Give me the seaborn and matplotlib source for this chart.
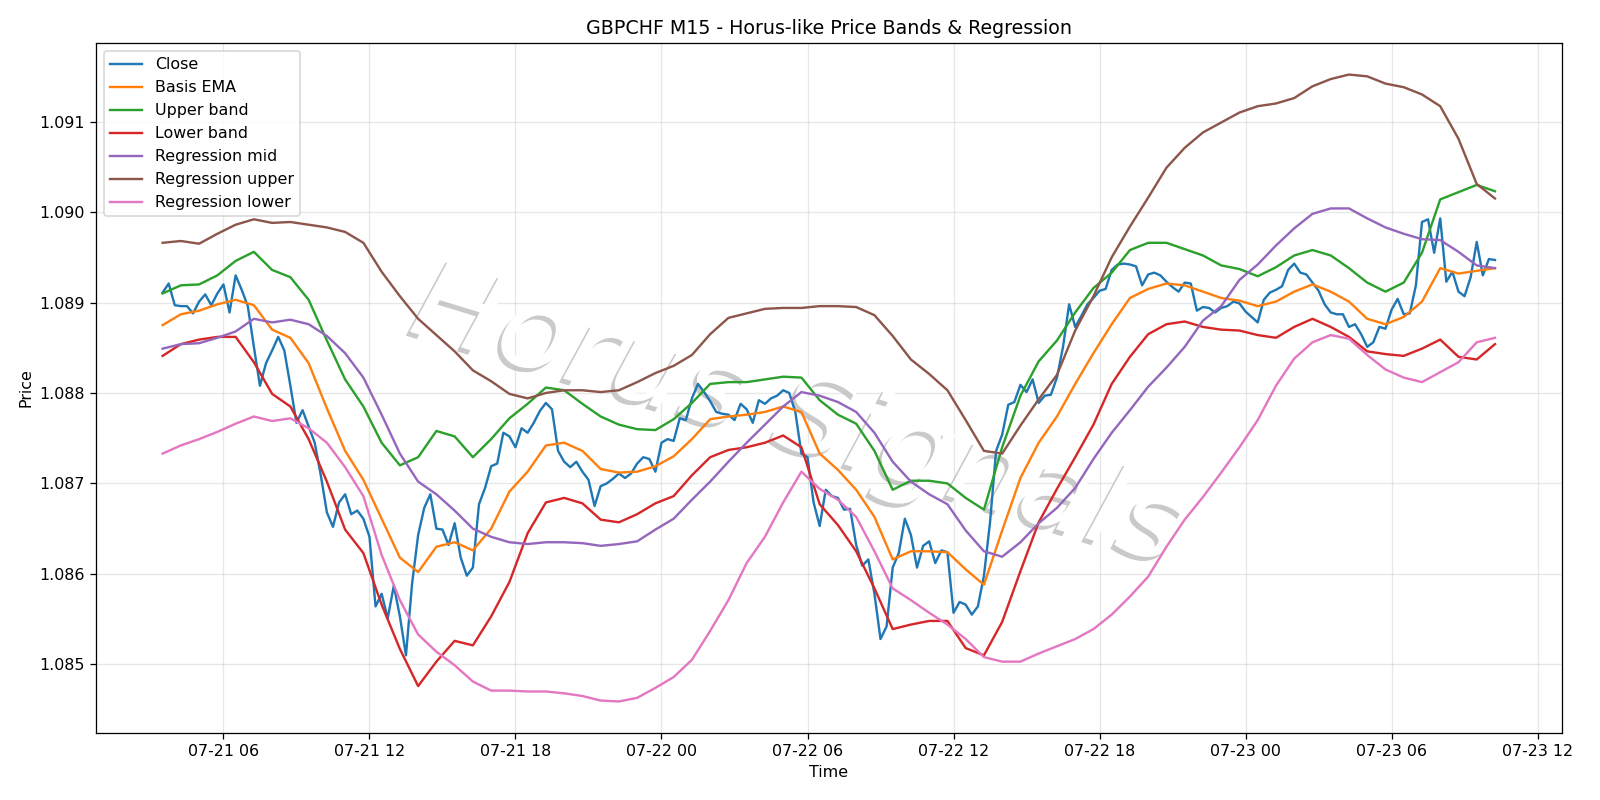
import numpy as np
import pandas as pd
import matplotlib
matplotlib.use("Agg")
import matplotlib.pyplot as plt
import matplotlib.dates as mdates
from matplotlib.textpath import TextPath
from matplotlib.font_manager import FontProperties
from matplotlib.patches import PathPatch
from matplotlib.transforms import Affine2D
import seaborn as sns

# ---------------- data ----------------
start = "2025-07-21 03:30"

close = [
    1.08911, 1.08921, 1.08897, 1.08896, 1.08896, 1.08888, 1.08901, 1.08909, 1.08897, 1.08910,
    1.08920, 1.08889, 1.08930, 1.08914, 1.08896, 1.08851, 1.08808, 1.08833, 1.08847, 1.08862,
    1.08847, 1.08808, 1.08767, 1.08781, 1.08763, 1.08745, 1.08709, 1.08668, 1.08652, 1.08679,
    1.08688, 1.08666, 1.08670, 1.08661, 1.08641, 1.08564, 1.08578, 1.08551, 1.08587, 1.08553,
    1.08510, 1.08589, 1.08643, 1.08673, 1.08688, 1.08650, 1.08649, 1.08632, 1.08656, 1.08618,
    1.08598, 1.08607, 1.08677, 1.08695, 1.08719, 1.08722, 1.08756, 1.08752, 1.08740, 1.08761,
    1.08756, 1.08767, 1.08780, 1.08789, 1.08782, 1.08736, 1.08724, 1.08718, 1.08724, 1.08713,
    1.08704, 1.08675, 1.08697, 1.08700, 1.08705, 1.08711, 1.08706, 1.08711, 1.08722, 1.08729,
    1.08727, 1.08713, 1.08745, 1.08749, 1.08747, 1.08772, 1.08770, 1.08794, 1.08810, 1.08801,
    1.08791, 1.08779, 1.08777, 1.08776, 1.08770, 1.08788, 1.08782, 1.08767, 1.08792, 1.08788,
    1.08794, 1.08797, 1.08803, 1.08800, 1.08779, 1.08733, 1.08729, 1.08679, 1.08653, 1.08693,
    1.08686, 1.08684, 1.08671, 1.08672, 1.08632, 1.08609, 1.08616, 1.08578, 1.08528, 1.08542,
    1.08607, 1.08623, 1.08661, 1.08643, 1.08607, 1.08631, 1.08636, 1.08612, 1.08626, 1.08624,
    1.08557, 1.08569, 1.08566, 1.08555, 1.08564, 1.08598, 1.08657, 1.08736, 1.08754, 1.08787,
    1.08790, 1.08809, 1.08801, 1.08815, 1.08789, 1.08797, 1.08798, 1.08817, 1.08851, 1.08898,
    1.08873, 1.08885, 1.08898, 1.08905, 1.08913, 1.08915, 1.08936, 1.08942, 1.08943, 1.08942,
    1.08940, 1.08919, 1.08931, 1.08933, 1.08930, 1.08923, 1.08917, 1.08912, 1.08922, 1.08921,
    1.08891, 1.08895, 1.08894, 1.08889, 1.08894, 1.08896, 1.08901, 1.08899, 1.08890, 1.08884,
    1.08878, 1.08903, 1.08911, 1.08914, 1.08918, 1.08936, 1.08943, 1.08933, 1.08931, 1.08922,
    1.08913, 1.08898, 1.08889, 1.08887, 1.08887, 1.08873, 1.08876, 1.08865, 1.08851, 1.08856,
    1.08873, 1.08871, 1.08892, 1.08904, 1.08887, 1.08888, 1.08919, 1.08989, 1.08992, 1.08955,
    1.08993, 1.08923, 1.08934, 1.08912, 1.08907, 1.08928, 1.08967, 1.08930, 1.08948, 1.08947,
]

# band / regression series sampled every 45 minutes
basis_ema = [
    1.08875, 1.08887, 1.08891, 1.08898, 1.08903, 1.08897, 1.08870, 1.08861, 1.08833, 1.08783,
    1.08736, 1.08704, 1.08661, 1.08618, 1.08602, 1.08630, 1.08635, 1.08626, 1.08650, 1.08691,
    1.08713, 1.08742, 1.08745, 1.08736, 1.08716, 1.08712, 1.08713, 1.08719, 1.08730, 1.08749,
    1.08771, 1.08774, 1.08776, 1.08779, 1.08785, 1.08779, 1.08733, 1.08715, 1.08693, 1.08663,
    1.08616, 1.08625, 1.08625, 1.08624, 1.08605, 1.08588, 1.08648, 1.08706, 1.08745, 1.08774,
    1.08810, 1.08844, 1.08876, 1.08905, 1.08915, 1.08921, 1.08919, 1.08912, 1.08905, 1.08902,
    1.08896, 1.08901, 1.08912, 1.08920, 1.08912, 1.08901, 1.08882, 1.08876, 1.08884, 1.08901,
    1.08938, 1.08932, 1.08935, 1.08938,
]
upper_band = [
    1.08910, 1.08919, 1.08920, 1.08930, 1.08946, 1.08956, 1.08936, 1.08928, 1.08903, 1.08858,
    1.08815, 1.08785, 1.08745, 1.08720, 1.08729, 1.08758, 1.08752, 1.08729, 1.08749, 1.08772,
    1.08788, 1.08806, 1.08803, 1.08788, 1.08774, 1.08765, 1.08760, 1.08759, 1.08771, 1.08789,
    1.08810, 1.08812, 1.08812, 1.08815, 1.08818, 1.08817, 1.08792, 1.08776, 1.08766, 1.08736,
    1.08693, 1.08703, 1.08703, 1.08700, 1.08684, 1.08671, 1.08740, 1.08797, 1.08835, 1.08858,
    1.08889, 1.08916, 1.08933, 1.08958, 1.08966, 1.08966, 1.08959, 1.08952, 1.08941, 1.08937,
    1.08929, 1.08939, 1.08952, 1.08958, 1.08952, 1.08938, 1.08922, 1.08912, 1.08922, 1.08955,
    1.09014, 1.09022, 1.09030, 1.09023,
]
lower_band = [
    1.08841, 1.08854, 1.08859, 1.08862, 1.08862, 1.08834, 1.08799, 1.08785, 1.08749, 1.08702,
    1.08649, 1.08623, 1.08566, 1.08517, 1.08476, 1.08503, 1.08526, 1.08521, 1.08553, 1.08591,
    1.08645, 1.08679, 1.08684, 1.08678, 1.08660, 1.08657, 1.08666, 1.08678, 1.08686, 1.08709,
    1.08729, 1.08737, 1.08740, 1.08745, 1.08753, 1.08740, 1.08677, 1.08654, 1.08625, 1.08584,
    1.08539, 1.08544, 1.08548, 1.08548, 1.08518, 1.08510, 1.08547, 1.08603, 1.08657, 1.08694,
    1.08729, 1.08765, 1.08810, 1.08840, 1.08865, 1.08876, 1.08879, 1.08873, 1.08870, 1.08869,
    1.08864, 1.08861, 1.08873, 1.08882, 1.08873, 1.08862, 1.08846, 1.08843, 1.08841, 1.08849,
    1.08859, 1.08840, 1.08837, 1.08854,
]
reg_mid = [
    1.08849, 1.08854, 1.08855, 1.08861, 1.08868, 1.08882, 1.08878, 1.08881, 1.08876, 1.08863,
    1.08844, 1.08817, 1.08776, 1.08733, 1.08702, 1.08688, 1.08670, 1.08650, 1.08641, 1.08635,
    1.08633, 1.08635, 1.08635, 1.08634, 1.08631, 1.08633, 1.08636, 1.08649, 1.08661, 1.08682,
    1.08702, 1.08724, 1.08745, 1.08765, 1.08785, 1.08801, 1.08797, 1.08790, 1.08779, 1.08756,
    1.08724, 1.08702, 1.08688, 1.08677, 1.08648, 1.08625, 1.08619, 1.08635, 1.08656, 1.08673,
    1.08695, 1.08727, 1.08756, 1.08781, 1.08807, 1.08828, 1.08851, 1.08880, 1.08896, 1.08925,
    1.08942, 1.08963, 1.08982, 1.08998, 1.09004, 1.09004, 1.08993, 1.08983, 1.08976, 1.08970,
    1.08969, 1.08956, 1.08941, 1.08938,
]
reg_upper = [
    1.08966, 1.08968, 1.08965, 1.08976, 1.08986, 1.08992, 1.08988, 1.08989, 1.08986, 1.08983,
    1.08978, 1.08966, 1.08934, 1.08907, 1.08882, 1.08864, 1.08846, 1.08825, 1.08813, 1.08799,
    1.08794, 1.08800, 1.08803, 1.08803, 1.08801, 1.08803, 1.08812, 1.08822, 1.08830, 1.08842,
    1.08865, 1.08883, 1.08888, 1.08893, 1.08894, 1.08894, 1.08896, 1.08896, 1.08895, 1.08886,
    1.08863, 1.08837, 1.08821, 1.08803, 1.08770, 1.08736, 1.08733, 1.08764, 1.08793, 1.08820,
    1.08869, 1.08907, 1.08950, 1.08984, 1.09016, 1.09049, 1.09071, 1.09088, 1.09099, 1.09110,
    1.09117, 1.09120, 1.09126, 1.09139, 1.09147, 1.09152, 1.09150, 1.09142, 1.09138, 1.09130,
    1.09117, 1.09081, 1.09031, 1.09015,
]
reg_lower = [
    1.08733, 1.08742, 1.08749, 1.08757, 1.08766, 1.08774, 1.08769, 1.08772, 1.08761, 1.08745,
    1.08718, 1.08686, 1.08621, 1.08571, 1.08533, 1.08514, 1.08499, 1.08481, 1.08471, 1.08471,
    1.08470, 1.08470, 1.08468, 1.08465, 1.08460, 1.08459, 1.08463, 1.08474, 1.08486, 1.08505,
    1.08537, 1.08571, 1.08612, 1.08641, 1.08679, 1.08713, 1.08694, 1.08682, 1.08663, 1.08625,
    1.08584, 1.08571, 1.08557, 1.08544, 1.08528, 1.08508, 1.08503, 1.08503, 1.08512, 1.08520,
    1.08528, 1.08539, 1.08555, 1.08575, 1.08597, 1.08630, 1.08660, 1.08685, 1.08712, 1.08740,
    1.08770, 1.08808, 1.08838, 1.08856, 1.08864, 1.08860, 1.08842, 1.08826, 1.08817, 1.08812,
    1.08823, 1.08834, 1.08856, 1.08861,
]

t_close = pd.date_range(start, periods=len(close), freq="15min")
t_bands = pd.date_range(start, periods=len(basis_ema), freq="45min")

df_close = pd.DataFrame({"Time": t_close, "Price": close})
df_bands = pd.DataFrame({
    "Time": t_bands,
    "Basis EMA": basis_ema,
    "Upper band": upper_band,
    "Lower band": lower_band,
    "Regression mid": reg_mid,
    "Regression upper": reg_upper,
    "Regression lower": reg_lower,
})

# ---------------- plot ----------------
DPI = 1600 / 14
fig, ax = plt.subplots(figsize=(14, 7), dpi=DPI)
fig.subplots_adjust(left=0.060, right=0.976, top=0.946, bottom=0.084)

palette = sns.color_palette("tab10")
sns.lineplot(data=df_close, x="Time", y="Price", ax=ax, color=palette[0],
             label="Close", linewidth=1.5, estimator=None)
names = ["Basis EMA", "Upper band", "Lower band", "Regression mid",
         "Regression upper", "Regression lower"]
for k, name in enumerate(names):
    sns.lineplot(data=df_bands, x="Time", y=name, ax=ax, color=palette[k + 1],
                 label=name, linewidth=1.5, estimator=None)

ax.set_title("GBPCHF M15 - Horus-like Price Bands & Regression")
ax.set_xlabel("Time")
ax.set_ylabel("Price")
ax.grid(True, alpha=0.3)
ax.xaxis.set_major_locator(mdates.HourLocator(byhour=[0, 6, 12, 18]))
ax.xaxis.set_major_formatter(mdates.DateFormatter("%m-%d %H"))
ax.legend(loc="upper left")

# ---- watermark (white italic text with soft grey shadow, under the lines) ----
tp = TextPath((0, 0), "Horus Signals", size=1,
              prop=FontProperties(family="DejaVu Sans", style="italic"))
ext = tp.get_extents()
cx, cy = ext.x0 + ext.width / 2, ext.y0 + ext.height / 2
ang = 17.0
em = 112.0                      # glyph height scale in pixels
h_px = ext.height * em
w_px = (790 - np.sin(np.radians(ang)) * h_px) / np.cos(np.radians(ang))
sx = w_px / ext.width
X, Y = 798, 800 - 418           # centre in display pixels
base = Affine2D().translate(-cx, -cy).scale(sx, em).rotate_deg(-ang)
shadow = PathPatch(tp, transform=base + Affine2D().translate(X - 4, Y - 4),
                   facecolor="#bdbdbd", edgecolor="none", alpha=0.8, zorder=1.6,
                   clip_on=False)
front = PathPatch(tp, transform=base + Affine2D().translate(X, Y),
                  facecolor="white", edgecolor="none", zorder=1.7, clip_on=False)
ax.add_artist(shadow)
ax.add_artist(front)

fig.savefig("out.png", dpi=DPI)
